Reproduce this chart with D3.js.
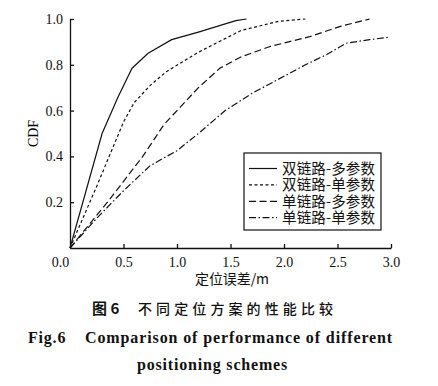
<!DOCTYPE html>
<html>
<head>
  <meta charset="UTF-8">
  <title>不同定位方案的性能比较</title>
  <style>
    body { margin: 0; background: #fff; }
    .line { fill: none; stroke: #111; stroke-width: 1.2px; }
    .axis text { font-family: "Liberation Serif", "DejaVu Serif", serif; font-size: 14px; fill: #111; }
    .axis path, .axis line { stroke: #111; stroke-width: 1.3px; }
    .cjk { font-family: "Noto Sans CJK SC", sans-serif; fill: #111; }
    .cap-en { font-family: "Liberation Serif", serif; font-weight: bold; font-size: 16px; fill: #111; letter-spacing: 0.8px; }
  </style>
</head>
<body>
  <svg width="438" height="386" id="chart"></svg>
  <script src="https://cdn.jsdelivr.net/npm/d3@7/dist/d3.min.js"></script>
  <script>
    // series names (legend order)
    var seriesNames = ["双链路-多参数", "双链路-单参数", "单链路-多参数", "单链路-单参数"];
    var dashes = ["none", "3,2.5", "7,3.5", "7,2.5,1.5,2.5"];

    // [error (m), CDF]
    var dualMulti = [[0, 0], [0.3, 0.5], [0.45, 0.66], [0.58, 0.785], [0.73, 0.85], [0.95, 0.91], [1.2, 0.943], [1.55, 0.993], [1.65, 1.0]];
    var dualSingle = [[0, 0], [0.25, 0.27], [0.5, 0.55], [0.6, 0.635], [0.75, 0.71], [0.9, 0.77], [1.2, 0.855], [1.6, 0.95], [1.95, 0.99], [2.2, 1.0]];
    var singleMulti = [[0, 0], [0.35, 0.2], [0.68, 0.4], [0.88, 0.54], [1.0, 0.6], [1.2, 0.7], [1.4, 0.785], [1.6, 0.835], [1.87, 0.88], [2.24, 0.923], [2.52, 0.967], [2.8, 1.0]];
    var singleSingle = [[0, 0], [0.25, 0.13], [0.5, 0.25], [0.75, 0.36], [1.0, 0.425], [1.2, 0.5], [1.45, 0.6], [1.7, 0.675], [2.0, 0.75], [2.2, 0.8], [2.4, 0.845], [2.58, 0.894], [2.8, 0.91], [2.98, 0.92]];
    var allSeries = [dualMulti, dualSingle, singleMulti, singleSingle];

    var xTicks = [0, 0.5, 1.0, 1.5, 2.0, 2.5, 3.0];
    var yTicks = [0.2, 0.4, 0.6, 0.8, 1.0];

    var svg = d3.select("#chart");
    var margin = { left: 70, top: 19 };
    var width = 321, height = 229;

    var x = d3.scaleLinear().domain([0, 3]).range([0, width]);
    var y = d3.scaleLinear().domain([0, 1]).range([height, 0]);

    var g = svg.append("g").attr("transform", "translate(" + margin.left + "," + margin.top + ")");

    // x axis, ticks pointing inward
    var xAxis = g.append("g")
      .attr("class", "axis")
      .attr("transform", "translate(0," + height + ")")
      .call(d3.axisBottom(x).tickValues(xTicks).tickFormat(d3.format(".1f")).tickSizeInner(-4).tickSizeOuter(0).tickPadding(9));
    xAxis.selectAll(".tick").filter(function (d) { return d === 0; })
      .select("text").attr("dx", -10);
    xAxis.selectAll(".tick").filter(function (d) { return d === 0; }).select("line").remove();

    var yAxis = g.append("g")
      .attr("class", "axis")
      .call(d3.axisLeft(y).tickValues(yTicks).tickFormat(d3.format(".1f")).tickSizeInner(-4).tickSizeOuter(0).tickPadding(7));

    g.append("text")
      .attr("transform", "translate(-37," + (height / 2) + ") rotate(-90)")
      .attr("text-anchor", "middle")
      .attr("dy", "0.35em")
      .style("font-family", "Liberation Serif, serif")
      .style("font-size", "14px")
      .text("CDF");

    g.append("text")
      .attr("class", "cjk")
      .attr("x", 125)
      .attr("y", height + 36)
      .attr("textLength", 74)
      .attr("lengthAdjust", "spacing")
      .style("font-size", "14px")
      .text("定位误差/m");

    var line = d3.line()
      .x(function (d) { return x(d[0]); })
      .y(function (d) { return y(d[1]); });

    g.selectAll(".line").data(allSeries).enter()
      .append("path")
      .attr("class", "line")
      .attr("d", line)
      .style("stroke-dasharray", function (d, i) { return dashes[i]; });

    // legend
    var lg = svg.append("g").attr("transform", "translate(244,153)");
    lg.append("rect").attr("width", 137).attr("height", 77)
      .attr("fill", "#fff").attr("stroke", "#111").attr("stroke-width", 1.2);
    var items = lg.selectAll(".item").data(seriesNames).enter()
      .append("g").attr("class", "item")
      .attr("transform", function (d, i) { return "translate(0," + (15.5 + i * 16.4) + ")"; });
    items.append("line")
      .attr("x1", 5).attr("x2", 33)
      .attr("class", "line")
      .style("stroke-dasharray", function (d, i) { return dashes[i]; });
    items.append("text")
      .attr("class", "cjk")
      .attr("x", 38)
      .attr("dy", "0.36em")
      .attr("textLength", 93)
      .attr("lengthAdjust", "spacing")
      .style("font-size", "14.5px")
      .text(function (d) { return d; });

    // captions
    svg.append("text").attr("class", "cjk")
      .attr("x", 92).attr("y", 314)
      .style("font-size", "15px").style("font-weight", "bold")
      .text("图 6");
    svg.append("text").attr("class", "cjk")
      .attr("x", 138).attr("y", 314)
      .attr("textLength", 195)
      .attr("lengthAdjust", "spacing")
      .style("font-size", "14px")
      .style("font-weight", "500")
      .text("不同定位方案的性能比较");
    svg.append("text").attr("class", "cap-en")
      .attr("x", 28).attr("y", 343)
      .text("Fig.6");
    svg.append("text").attr("class", "cap-en")
      .attr("x", 85).attr("y", 343)
      .attr("textLength", 308)
      .attr("lengthAdjust", "spacing")
      .text("Comparison of performance of different");
    svg.append("text").attr("class", "cap-en")
      .attr("x", 137).attr("y", 370)
      .attr("textLength", 151)
      .attr("lengthAdjust", "spacing")
      .text("positioning schemes");
  </script>
</body>
</html>
